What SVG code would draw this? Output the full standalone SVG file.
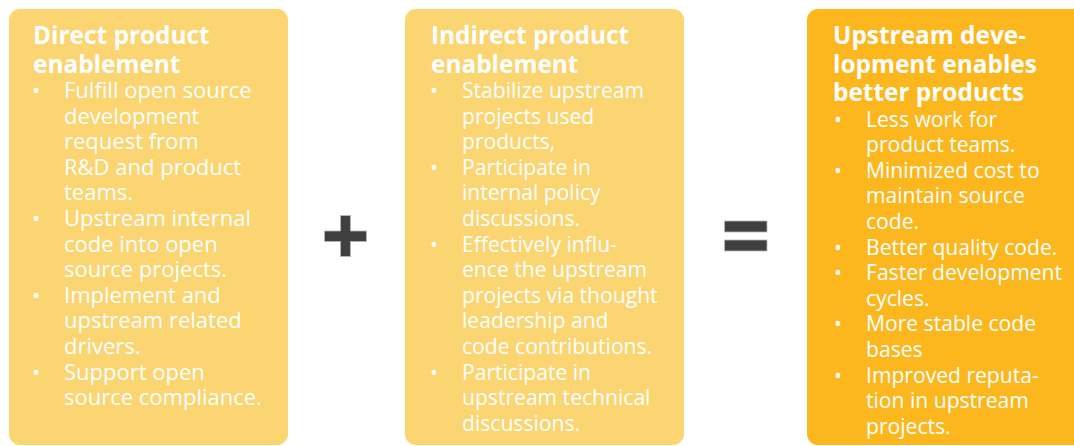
<svg xmlns="http://www.w3.org/2000/svg" width="1074" height="446" viewBox="0 0 1074 446">
  <style>
    .card-light { fill: #FAD572; }
    .card-dark { fill: #FDB71E; }
    .title { font-family: "Open Sans", "Liberation Sans", sans-serif; font-weight: 700; font-size: 24.4px; fill: #FFFFFF; }
    .body { font-family: "Open Sans", "Liberation Sans", sans-serif; font-weight: 400; font-size: 22px; fill: #FFFFFF; }
    .body-s { font-family: "Open Sans", "Liberation Sans", sans-serif; font-weight: 400; font-size: 21.1px; fill: #FFFFFF; }
    .op { fill: #404040; stroke: #B8B8B8; stroke-width: 0.8; }
  </style>

  <!-- Card 1: direct enablement -->
  <g id="direct">
    <rect class="card-light" x="9" y="9" width="279" height="436" rx="11"/>
    <text class="title"><tspan x="33" y="44">Direct product</tspan><tspan x="33" y="72.5">enablement</tspan></text>
    <text class="body">
      <tspan x="32" y="98">•</tspan>
      <tspan x="32" y="226">•</tspan>
      <tspan x="32" y="302.8">•</tspan>
      <tspan x="32" y="379.6">•</tspan>
    </text>
    <text class="body">
      <tspan x="64" y="98">Fulfill open source</tspan>
      <tspan x="64" y="123.6">development</tspan>
      <tspan x="64" y="149.2">request from</tspan>
      <tspan x="64" y="174.8">R&amp;D and product</tspan>
      <tspan x="64" y="200.4">teams.</tspan>
      <tspan x="64" y="226">Upstream internal</tspan>
      <tspan x="64" y="251.6">code into open</tspan>
      <tspan x="64" y="277.2">source projects.</tspan>
      <tspan x="64" y="302.8">Implement and</tspan>
      <tspan x="64" y="328.4">upstream related</tspan>
      <tspan x="64" y="354">drivers.</tspan>
      <tspan x="64" y="379.6">Support open</tspan>
      <tspan x="64" y="405.2">source compliance.</tspan>
    </text>
  </g>

  <!-- Card 2: indirect enablement -->
  <g id="indirect">
    <rect class="card-light" x="405" y="9" width="279" height="436" rx="11"/>
    <text class="title"><tspan x="431" y="44">Indirect product</tspan><tspan x="431" y="72.5">enablement</tspan></text>
    <text class="body-s">
      <tspan x="430" y="98">•</tspan>
      <tspan x="430" y="174.8">•</tspan>
      <tspan x="430" y="251.6">•</tspan>
      <tspan x="430" y="379.6">•</tspan>
    </text>
    <text class="body-s">
      <tspan x="462" y="98">Stabilize upstream</tspan>
      <tspan x="462" y="123.6">projects used</tspan>
      <tspan x="462" y="149.2">products,</tspan>
      <tspan x="462" y="174.8">Participate in</tspan>
      <tspan x="462" y="200.4">internal policy</tspan>
      <tspan x="462" y="226">discussions.</tspan>
      <tspan x="462" y="251.6">Effectively influ-</tspan>
      <tspan x="462" y="277.2">ence the upstream</tspan>
      <tspan x="462" y="302.8">projects via thought</tspan>
      <tspan x="462" y="328.4">leadership and</tspan>
      <tspan x="462" y="354">code contributions.</tspan>
      <tspan x="462" y="379.6">Participate in</tspan>
      <tspan x="462" y="405.2">upstream technical</tspan>
      <tspan x="462" y="430.8">discussions.</tspan>
    </text>
  </g>

  <!-- Card 3: outcome -->
  <g id="outcome">
    <rect class="card-dark" x="807" y="9" width="290" height="436" rx="11"/>
    <text class="title">
      <tspan x="833" y="44">Upstream deve-</tspan>
      <tspan x="833" y="72.5">lopment enables</tspan>
      <tspan x="833" y="101">better products</tspan>
    </text>
    <text class="body-s">
      <tspan x="834" y="126.5">•</tspan>
      <tspan x="834" y="177.7">•</tspan>
      <tspan x="834" y="254.5">•</tspan>
      <tspan x="834" y="280.1">•</tspan>
      <tspan x="834" y="331.3">•</tspan>
      <tspan x="834" y="382.5">•</tspan>
    </text>
    <text class="body-s">
      <tspan x="866" y="126.5">Less work for</tspan>
      <tspan x="866" y="152.1">product teams.</tspan>
      <tspan x="866" y="177.7">Minimized cost to</tspan>
      <tspan x="866" y="203.3">maintain source</tspan>
      <tspan x="866" y="228.9">code.</tspan>
      <tspan x="866" y="254.5">Better quality code.</tspan>
      <tspan x="866" y="280.1">Faster development</tspan>
      <tspan x="866" y="305.7">cycles.</tspan>
      <tspan x="866" y="331.3">More stable code</tspan>
      <tspan x="866" y="356.9">bases</tspan>
      <tspan x="866" y="382.5">Improved reputa-</tspan>
      <tspan x="866" y="408.1">tion in upstream</tspan>
      <tspan x="866" y="433.7">projects.</tspan>
    </text>
  </g>

  <!-- Operators between the cards -->
  <g id="operators">
    <path id="plus" class="op" d="M340.5 215.5 H350.5 V231 H366.5 V241.5 H350.5 V256.5 H340.5 V241.5 H324.5 V231 H340.5 Z"/>
    <g id="equals">
      <rect class="op" x="724.5" y="221" width="42.5" height="11"/>
      <rect class="op" x="724.5" y="240" width="42.5" height="11"/>
    </g>
  </g>
</svg>
